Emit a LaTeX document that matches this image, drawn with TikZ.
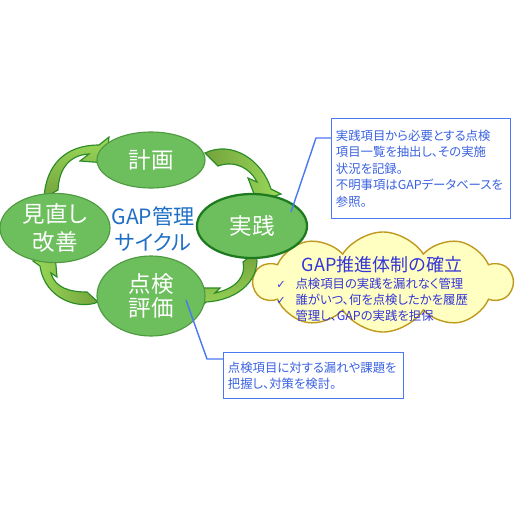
\documentclass[tikz,border=0pt]{standalone}
\usepackage{fontspec}
\setmainfont[RawFeature=+palt]{Noto Sans CJK JP}
\newfontfamily\symfont{DejaVu Sans}
\usepackage{tikz}
\usetikzlibrary{shapes.geometric, shapes.symbols, positioning}
\definecolor{stagefill}{HTML}{6DBF5E}
\definecolor{stageborder}{HTML}{4F9A40}
\definecolor{practiceborder}{HTML}{1E7A1E}
\definecolor{arrowedge}{HTML}{2A8A24}
\definecolor{arrowdark}{HTML}{74A33C}
\definecolor{arrowlight}{HTML}{9AD85A}
\definecolor{cycleblue}{HTML}{1F6FC6}
\definecolor{calledge}{HTML}{4A78F2}
\definecolor{calltext}{HTML}{3A62E0}
\definecolor{cloudfill}{HTML}{FFFFC2}
\definecolor{cloudedge}{HTML}{BF9A1E}
\definecolor{cloudtext}{HTML}{3434D8}

\tikzset{
  stage/.style={ellipse, draw=stageborder, line width=0.8pt, fill=stagefill,
                inner sep=0pt, text=white, align=center,
                font=\fontsize{16}{19}\selectfont},
  cyclearrow/.style={draw=arrowedge, line width=0.8pt, line join=miter},
  callbox/.style={draw=calledge, line width=1pt, fill=white, text=calltext,
                  align=left, anchor=north west, inner xsep=3pt,
                  font=\fontsize{8.8}{11.7}\selectfont},
  callline/.style={draw=calledge, line width=1pt},
}

\begin{document}
\begin{tikzpicture}[x=0.025cm, y=-0.025cm]
\fill[white] (0,0) rectangle (520,520);
\useasboundingbox (0,0) rectangle (520,520);

\node[cloud, cloud puffs=10, cloud puff arc=115, cloud ignores aspect,
      draw=cloudedge, fill=cloudfill, line width=1pt,
      minimum width=6.45cm, minimum height=2.5cm] (system) at (383,282) {};

\draw[cyclearrow, bottom color=arrowdark, top color=arrowlight]
  (44,198) .. controls (46,165) and (65,145) .. (99,145) -- (109,137) -- (106,163)
  -- (80,161) -- (89,154) .. controls (70,155) and (59,168) .. (58,190) -- cycle;
\draw[cyclearrow, left color=arrowdark, right color=arrowlight]
  (205,153) .. controls (232,140) and (262,160) .. (271,189) -- (281,194) -- (257,202)
  -- (248,178) -- (257,182) .. controls (250,168) and (235,160) .. (218,166) -- cycle;
\draw[cyclearrow, top color=arrowdark, bottom color=arrowlight]
  (256,252) .. controls (262,278) and (240,300) .. (206,302) -- (195,314) -- (193,288)
  -- (220,288) -- (215,293) .. controls (238,288) and (246,275) .. (243,262) -- cycle;
\draw[cyclearrow, right color=arrowdark, left color=arrowlight]
  (98,302) .. controls (80,310) and (45,300) .. (40,266) -- (33,261) -- (55,254)
  -- (57,277) -- (51,273) .. controls (55,288) and (70,292) .. (87,292) -- cycle;

\node[stage, minimum width=2.7cm, minimum height=1.4cm] (plan) at (151,160) {計画};
\node[stage, draw=practiceborder, line width=1.6pt,
      minimum width=2.75cm, minimum height=1.6cm] (practice) at (252,226) {実践};
\node[stage, minimum width=2.75cm, minimum height=1.55cm,
      font=\fontsize{16}{20}\selectfont] (review) at (55,228) {見直し\\改善};
\node[stage, minimum width=2.7cm, minimum height=2cm,
      font=\fontsize{16}{16.5}\selectfont] (check) at (151,296) {点検\\評価};

\node[text=cycleblue, align=center, font=\fontsize{15}{18}\selectfont]
  (cyclename) at (153,229) {GAP管理\\サイクル};

\node[text=cloudtext, font=\fontsize{12.8}{15}\selectfont] (systemtitle) at (382,265) {GAP推進体制の確立};
\node[text=cloudtext, anchor=north west, inner sep=0pt, font=\fontsize{8.8}{11.5}\selectfont]
  (systemlist) at (276,277) {%
  \begin{tabular}{@{}l@{\hspace{7pt}}l@{}}
  {\symfont\fontsize{8}{10}\selectfont ✓} & 点検項目の実践を漏れなく管理\\
  {\symfont\fontsize{8}{10}\selectfont ✓} & 誰がいつ、何を点検したかを履歴\\
  & 管理し、GAPの実践を担保
  \end{tabular}};

\coordinate (practicetip) at (291,212);
\coordinate (practicebend) at (316,138);
\coordinate (checktip) at (186,300);
\coordinate (checkbend) at (207,359);

\node[callbox, text width=4.26cm, minimum height=2.5cm] (practicenote) at (331,118)
  {実践項目から必要とする点検\\項目一覧を抽出し、その実施\\状況を記録。\\不明事項はGAPデータベースを\\参照。};
\node[callbox, text width=4.29cm, minimum height=1.15cm] (checknote) at (223,352)
  {点検項目に対する漏れや課題を\\把握し、対策を検討。};

\draw[callline] (practicetip) -- (practicebend) -- (practicenote.west |- practicebend);
\draw[callline] (checktip) -- (checkbend) -- (checknote.west |- checkbend);
\end{tikzpicture}
\end{document}
